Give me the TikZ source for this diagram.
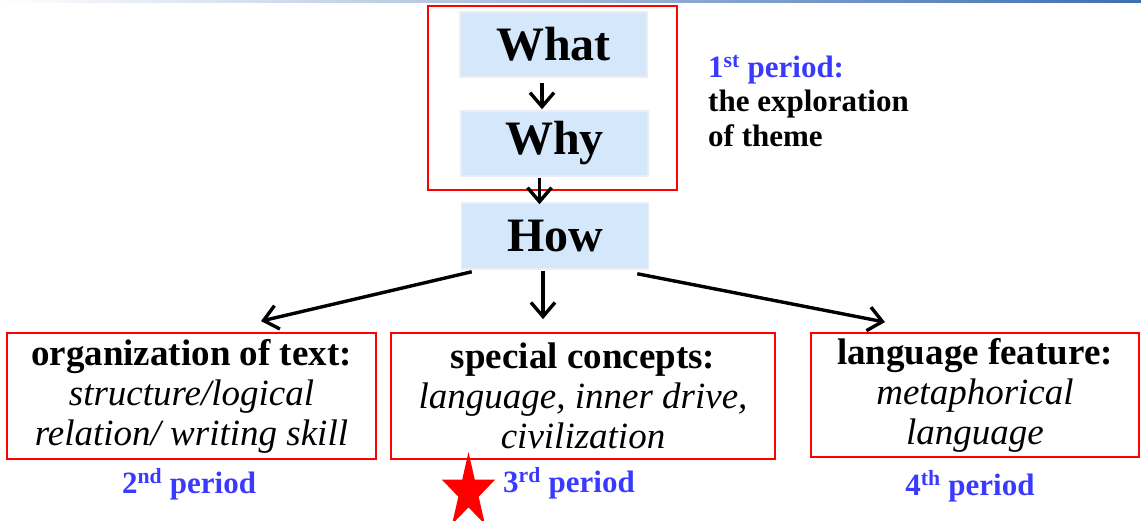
\documentclass[tikz,border=0pt]{standalone}
\usepackage{fontspec}
\setmainfont{Liberation Serif}
\usetikzlibrary{arrows.meta,calc}
\definecolor{barblue}{RGB}{62,111,176}
\definecolor{boxblue}{RGB}{213,232,251}
\definecolor{boxedge}{RGB}{232,238,247}
\definecolor{periodblue}{RGB}{58,58,255}

\begin{document}
\begin{tikzpicture}[x=1pt,y=-1pt,
  qbox/.style={fill=boxblue, draw=boxedge, line width=1.5pt, minimum width=187pt,
    minimum height=65pt, inner sep=0pt, font=\fontsize{48}{52}\selectfont\bfseries},
  frame/.style={draw=red, line width=1.8pt, inner sep=0pt},
  topicbox/.style={frame, align=center, font=\fontsize{37}{40}\selectfont},
  flow/.style={line width=3.4pt, -{Straight Barb[length=14pt,width=24pt]}},
  period/.style={text=periodblue, font=\fontsize{31}{34}\selectfont\bfseries,
    anchor=base, inner sep=0pt},
]
\useasboundingbox (0,0) rectangle (1141,520);
% thin banner line along the top edge
\shade[left color=white, right color=barblue] (0,0) rectangle (1141,2.5);

% first period: What -> Why, framed together
\node[frame, minimum width=249pt, minimum height=184pt] (first) at (552.5,98) {};
\node[qbox] (what) at (553.5,44.5) {What};
\node[qbox] (why) at (554.5,143.5) {Why};
\node[qbox, minimum height=66pt] (how) at (555,236) {How};

% the node's base is the baseline of its last line
\node[anchor=base west, align=left, inner sep=0pt,
  font=\fontsize{31}{34.5}\selectfont\bfseries] (p1) at (708,146)
  {\textcolor{periodblue}{1\textsuperscript{st} period:}\\the exploration\\of theme};

% the three topics
\node[topicbox, minimum width=369pt, minimum height=126pt] (org) at (191.5,396)
  {\textbf{organization of text:}\\\textit{structure/logical}\\\textit{relation/ writing skill}};
\node[topicbox, minimum width=384pt, minimum height=126pt] (mid) at (583,396)
  {\textbf{special concepts:}\\\textit{language, inner drive,}\\\textit{civilization}};
\node[topicbox, minimum width=328pt, minimum height=124pt] (feat) at (975,395)
  {\textbf{language feature:}\\\textit{metaphorical}\\\textit{language}};

\node[period] (p2) at (189,493) {2\textsuperscript{nd} period};
\node[period] (p3) at (569,492) {3\textsuperscript{rd} period};
\node[period] (p4) at (970,495) {4\textsuperscript{th} period};

% connectors
\draw[flow] ($(what.south)+(-11.5,5)$) -- ($(why.north)+(-12.5,-1)$);
\draw[flow] ($(why.south)+(-15,1)$) -- ($(how.north)+(-15.5,2)$);
\draw[flow] ($(how.south)+(-12,1)$) -- ($(mid.north)+(-40,-13)$);
\draw[flow] ($(how.south west)+(11,2)$) -- ($(org.north)+(69.5,-11)$);
\draw[flow] ($(how.south east)+(-12,4)$) -- ($(feat.north)+(-90,-10)$);

% red star beside the third period
\fill[red] (468.5,452)
  \foreach \i/\r in {1/0.382,2/1,3/0.382,4/1,5/0.382,6/1,7/0.382,8/1,9/0.382}
  { -- ({468.5+28*\r*cos(90+36*\i)},{492-40*\r*sin(90+36*\i)}) } -- cycle;
\end{tikzpicture}
\end{document}
